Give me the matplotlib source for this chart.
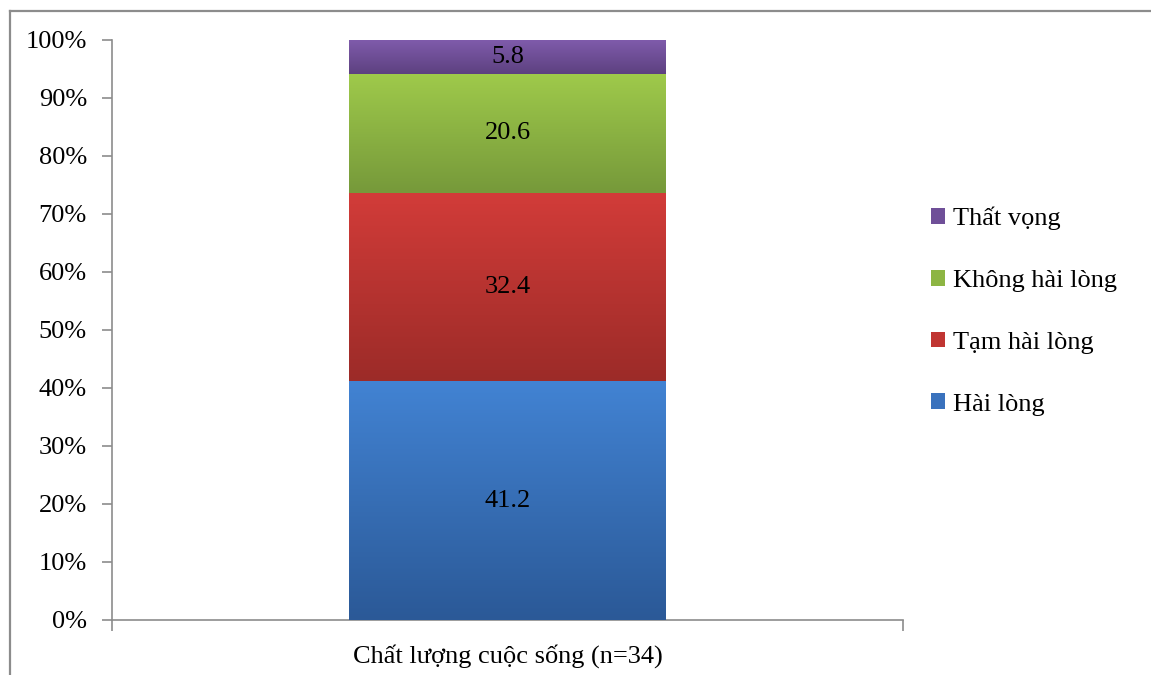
import matplotlib.pyplot as plt
import numpy as np
from matplotlib.colors import LinearSegmentedColormap
from matplotlib.patches import Patch
from matplotlib.lines import Line2D

plt.rcParams["font.family"] = ["Liberation Serif", "DejaVu Serif"]

category = "Chất lượng cuộc sống (n=34)"
labels = ["Hài lòng", "Tạm hài lòng", "Không hài lòng", "Thất vọng"]
values = [41.2, 32.4, 20.6, 5.8]
# (top colour, bottom colour) for each segment's gradient
colors_top = ["#4283d3", "#d23c39", "#9fca4b", "#7f5bab"]
colors_bottom = ["#2b5997", "#9c2b28", "#76993a", "#5d4180"]
colors_legend = ["#3a72bd", "#c03532", "#8db543", "#6f4f98"]
yticks = np.arange(0, 101, 10)

FS = 19

fig = plt.figure(figsize=(11.51, 6.75), dpi=100)
ax = fig.add_axes([0.0973, 0.0815, 0.6872, 0.8593])

# outer frame (only left and top visible)
fig.add_artist(Line2D([10 / 1151, 10 / 1151], [0, 1 - 11 / 675], transform=fig.transFigure,
                      color="#8c8c8c", lw=1.6))
fig.add_artist(Line2D([10 / 1151, 1], [1 - 11 / 675, 1 - 11 / 675], transform=fig.transFigure,
                      color="#8c8c8c", lw=1.6))

bottom = 0
for lab, v, ct, cb in zip(labels, values, colors_top, colors_bottom):
    bars = ax.bar(0, v, width=0.4, bottom=bottom, color=ct, edgecolor="none", zorder=2)
    patch = bars[0]
    x0 = patch.get_x()
    w = patch.get_width()
    y0 = patch.get_y()
    h = patch.get_height()
    cmap = LinearSegmentedColormap.from_list(lab, [cb, ct])
    grad = np.linspace(0, 1, 256).reshape(-1, 1)
    im = ax.imshow(grad, cmap=cmap, aspect="auto", origin="lower",
                   extent=[x0, x0 + w, y0, y0 + h], zorder=3)
    im.set_clip_path(patch)
    ax.text(0, y0 + h / 2, f"{v:.1f}", ha="center", va="center", fontsize=FS, zorder=4)
    bottom += v

ax.set_xlim(-0.5, 0.5)
ax.set_ylim(0, 100)
ax.set_yticks(yticks)
ax.set_yticklabels([f"{t}%" for t in yticks], fontsize=FS)
ax.set_xticks([-0.5, 0.5])
ax.set_xticklabels(["", ""])
ax.set_xticks([0], minor=True)
ax.set_xticklabels([category], minor=True, fontsize=FS)
ax.tick_params(axis="x", which="minor", length=0, pad=17)
ax.tick_params(axis="x", which="major", length=8, color="#8c8c8c", width=1.2)
ax.tick_params(axis="y", length=7, color="#8c8c8c", width=1.2, pad=11)

for s in ["top", "right"]:
    ax.spines[s].set_visible(False)
for s in ["left", "bottom"]:
    ax.spines[s].set_color("#8c8c8c")
    ax.spines[s].set_linewidth(1.2)

handles = [Patch(facecolor=c, edgecolor="none") for c in colors_legend]
fig.legend(handles[::-1], labels[::-1], loc="center left", bbox_to_anchor=(0.797, 0.539),
           frameon=False, fontsize=FS, handlelength=0.55, handleheight=0.55,
           handletextpad=0.3, labelspacing=1.5, borderpad=0)

fig.savefig("out.png", dpi=100)
